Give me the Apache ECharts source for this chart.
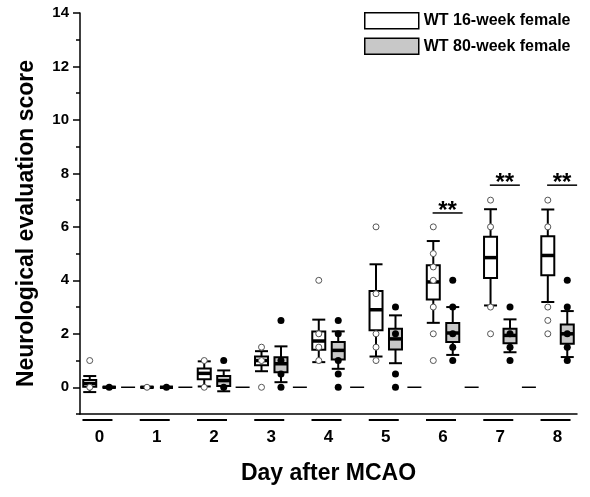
<!DOCTYPE html>
<html>
<head>
<meta charset="utf-8">
<script src="https://cdn.jsdelivr.net/npm/echarts@6/dist/echarts.min.js"></script>
<style>
  html, body { margin: 0; padding: 0; background: #fff; }
  #chart { width: 590px; height: 497px; }
</style>
</head>
<body>
<div id="chart"></div>
<script>
// Days after MCAO
const days = [0, 1, 2, 3, 4, 5, 6, 7, 8];

// Box stats per day: [low whisker, Q1, mean, Q3, high whisker]
const young16 = [
  [-0.18, 0.02, 0.14, 0.27, 0.42],
  [0, 0, 0, 0, 0],
  [0.03, 0.3, 0.52, 0.7, 0.97],
  [0.6, 0.82, 1.0, 1.15, 1.35],
  [0.94, 1.4, 1.73, 2.09, 2.53],
  [1.15, 2.13, 2.9, 3.6, 4.6],
  [2.41, 3.28, 3.94, 4.56, 5.47],
  [3.06, 4.09, 4.85, 5.63, 6.66],
  [3.19, 4.19, 4.93, 5.65, 6.65]
];
const old80 = [
  [0, 0, 0, 0, 0],
  [0, 0, 0, 0, 0],
  [-0.15, 0.05, 0.25, 0.42, 0.63],
  [0.19, 0.56, 0.88, 1.12, 1.53],
  [0.69, 1.04, 1.38, 1.69, 2.09],
  [0.9, 1.41, 1.81, 2.19, 2.69],
  [1.21, 1.69, 2.03, 2.4, 3.0],
  [1.31, 1.65, 1.94, 2.19, 2.54],
  [1.13, 1.63, 2.0, 2.35, 2.85]
];

// individual scores shown as dots: [day, score]
const young16Points = [
  [0, 1], [0, 0], [1, 0], [2, 1], [2, 0],
  [3, 1.5], [3, 1], [3, 0],
  [4, 4], [4, 2], [4, 1.5], [4, 1],
  [5, 6], [5, 3.5], [5, 2], [5, 1.5], [5, 1],
  [6, 6], [6, 5], [6, 4.5], [6, 4], [6, 3], [6, 2], [6, 1],
  [7, 7], [7, 6], [7, 3], [7, 2],
  [8, 7], [8, 6], [8, 3], [8, 2.5], [8, 2]
];
const old80Points = [
  [0, 0], [1, 0], [2, 1], [2, 0],
  [3, 2.5], [3, 1], [3, 0.5], [3, 0],
  [4, 2.5], [4, 2], [4, 1], [4, 0.5], [4, 0],
  [5, 3], [5, 2], [5, 0.5], [5, 0],
  [6, 4], [6, 3], [6, 2], [6, 1.5], [6, 1],
  [7, 3], [7, 2], [7, 1.5], [7, 1],
  [8, 4], [8, 3], [8, 2], [8, 1.5], [8, 1]
];

// y axis ticks
const yTicks = [0, 2, 4, 6, 8, 10, 12, 14];
const yMinorTicks = [-1, 1, 3, 5, 7, 9, 11, 13];

// little zero dashes between days
const gapMarks = [0.5, 1.5, 2.5, 3.5, 4.5, 5.5, 6.5, 7.5];

// significance bars
const sigDays = [6, 7, 8];
const sigLevels = [6.52, 7.56, 7.56];
const sigLabel = '**';

const names = ['WT 16-week female', 'WT 80-week female'];
const SHIFT = 0.17;
const FONT = '"Liberation Sans", Arial, sans-serif';

function boxRender(fill) {
  return function (params, api) {
    const x = api.value(0);
    const low = api.coord([x, api.value(1)]);
    const q1 = api.coord([x, api.value(2)]);
    const mid = api.coord([x, api.value(3)]);
    const q3 = api.coord([x, api.value(4)]);
    const high = api.coord([x, api.value(5)]);
    const cx = low[0], w = 13;
    const st = { stroke: '#000', lineWidth: 2 };
    return {
      type: 'group',
      children: [
        { type: 'line', shape: { x1: cx, y1: high[1], x2: cx, y2: low[1] }, style: st },
        { type: 'line', shape: { x1: cx - w / 2, y1: high[1], x2: cx + w / 2, y2: high[1] }, style: st },
        { type: 'line', shape: { x1: cx - w / 2, y1: low[1], x2: cx + w / 2, y2: low[1] }, style: st },
        { type: 'rect', shape: { x: cx - w / 2, y: q3[1], width: w, height: q1[1] - q3[1] },
          style: { fill: fill, stroke: '#000', lineWidth: 2 } },
        { type: 'line', shape: { x1: cx - w / 2, y1: mid[1], x2: cx + w / 2, y2: mid[1] },
          style: { stroke: '#000', lineWidth: 3.5 } }
      ]
    };
  };
}

const chart = echarts.init(document.getElementById('chart'));

const option = {
  animation: false,
  grid: { left: 80, right: 13, top: 13, bottom: 83 },
  legend: {
    orient: 'vertical',
    left: 364,
    top: 12,
    padding: 0,
    itemWidth: 54,
    itemHeight: 16,
    itemGap: 8,
    textStyle: { fontFamily: FONT, fontWeight: 'bold', fontSize: 16, color: '#000' },
    data: [
      { name: names[0], icon: 'rect', itemStyle: { color: '#fff', borderColor: '#000', borderWidth: 1.5 } },
      { name: names[1], icon: 'rect', itemStyle: { color: '#c8c8c8', borderColor: '#000', borderWidth: 1.5 } }
    ]
  },
  xAxis: {
    type: 'value',
    min: -0.34,
    max: 8.34,
    name: 'Day after MCAO',
    nameLocation: 'middle',
    nameGap: 48,
    nameTextStyle: { fontFamily: FONT, fontWeight: 'bold', fontSize: 23, color: '#000' },
    axisLine: { onZero: false, lineStyle: { color: '#000', width: 1.5 } },
    axisTick: { show: false },
    splitLine: { show: false },
    axisLabel: {
      customValues: days,
      margin: 15,
      fontFamily: FONT, fontWeight: 'bold', fontSize: 17, color: '#000'
    }
  },
  yAxis: [
    {
      type: 'value',
      min: -1,
      max: 14,
      position: 'left',
      name: 'Neurological evaluation score',
      nameLocation: 'middle',
      nameGap: 42,
      nameTextStyle: { fontFamily: FONT, fontWeight: 'bold', fontSize: 23, color: '#000', padding: [0, 20, 0, 0] },
      axisLine: { show: true, onZero: false, lineStyle: { color: '#000', width: 1.5 } },
      axisTick: { show: true, customValues: yTicks, length: 7, lineStyle: { color: '#000', width: 1.5 } },
      splitLine: { show: false },
      axisLabel: {
        customValues: yTicks,
        margin: 11,
        fontFamily: FONT, fontWeight: 'bold', fontSize: 15, color: '#000'
      }
    },
    {
      // minor ticks only
      type: 'value',
      min: -1,
      max: 14,
      position: 'left',
      axisLine: { show: false, onZero: false },
      axisTick: { show: true, customValues: yMinorTicks, length: 4, lineStyle: { color: '#000', width: 1.5 } },
      axisLabel: { show: false },
      splitLine: { show: false }
    }
  ],
  series: [
    {
      name: names[0],
      type: 'custom',
      renderItem: boxRender('#fff'),
      itemStyle: { color: '#fff', borderColor: '#000' },
      data: young16.map((s, i) => [days[i] - SHIFT].concat(s)),
      z: 2
    },
    {
      name: names[1],
      type: 'custom',
      renderItem: boxRender('#c8c8c8'),
      itemStyle: { color: '#c8c8c8', borderColor: '#000' },
      data: old80.map((s, i) => [days[i] + SHIFT].concat(s)),
      z: 2
    },
    {
      name: names[0],
      type: 'scatter',
      symbolSize: 6,
      itemStyle: { color: '#fff', borderColor: '#555', borderWidth: 1, opacity: 1 },
      data: young16Points.map(p => [p[0] - SHIFT, p[1]]),
      z: 3
    },
    {
      name: names[1],
      type: 'scatter',
      symbolSize: 7,
      itemStyle: { color: '#000', opacity: 1 },
      data: old80Points.map(p => [p[0] + SHIFT, p[1]]),
      z: 3
    },
    {
      // zero dashes between days
      type: 'custom',
      silent: true,
      renderItem: function (params, api) {
        const p = api.coord([api.value(0), 0]);
        return { type: 'line', shape: { x1: p[0] - 7, y1: p[1], x2: p[0] + 7, y2: p[1] },
          style: { stroke: '#000', lineWidth: 1.5 } };
      },
      data: gapMarks.map(g => [g, 0])
    },
    {
      // short bars under each day label
      type: 'custom',
      silent: true,
      clip: false,
      renderItem: function (params, api) {
        const p = api.coord([api.value(0), -1]);
        const y = p[1] + 6;
        return { type: 'line', shape: { x1: p[0] - 17, y1: y, x2: p[0] + 13, y2: y },
          style: { stroke: '#000', lineWidth: 2 } };
      },
      data: days.map(d => [d, -1])
    },
    {
      // significance marks
      type: 'custom',
      silent: true,
      clip: false,
      renderItem: function (params, api) {
        const p = api.coord([api.value(0) + 0.08, api.value(1)]);
        return {
          type: 'group',
          children: [
            { type: 'line', shape: { x1: p[0] - 15, y1: p[1], x2: p[0] + 15, y2: p[1] },
              style: { stroke: '#000', lineWidth: 1.5 } },
            { type: 'text', style: { text: sigLabel, x: p[0], y: p[1] - 2,
              align: 'center', verticalAlign: 'middle',
              font: 'bold 24px ' + FONT, fill: '#000' } }
          ]
        };
      },
      data: sigDays.map((d, i) => [d, sigLevels[i]])
    }
  ]
};

chart.setOption(option);
</script>
</body>
</html>
